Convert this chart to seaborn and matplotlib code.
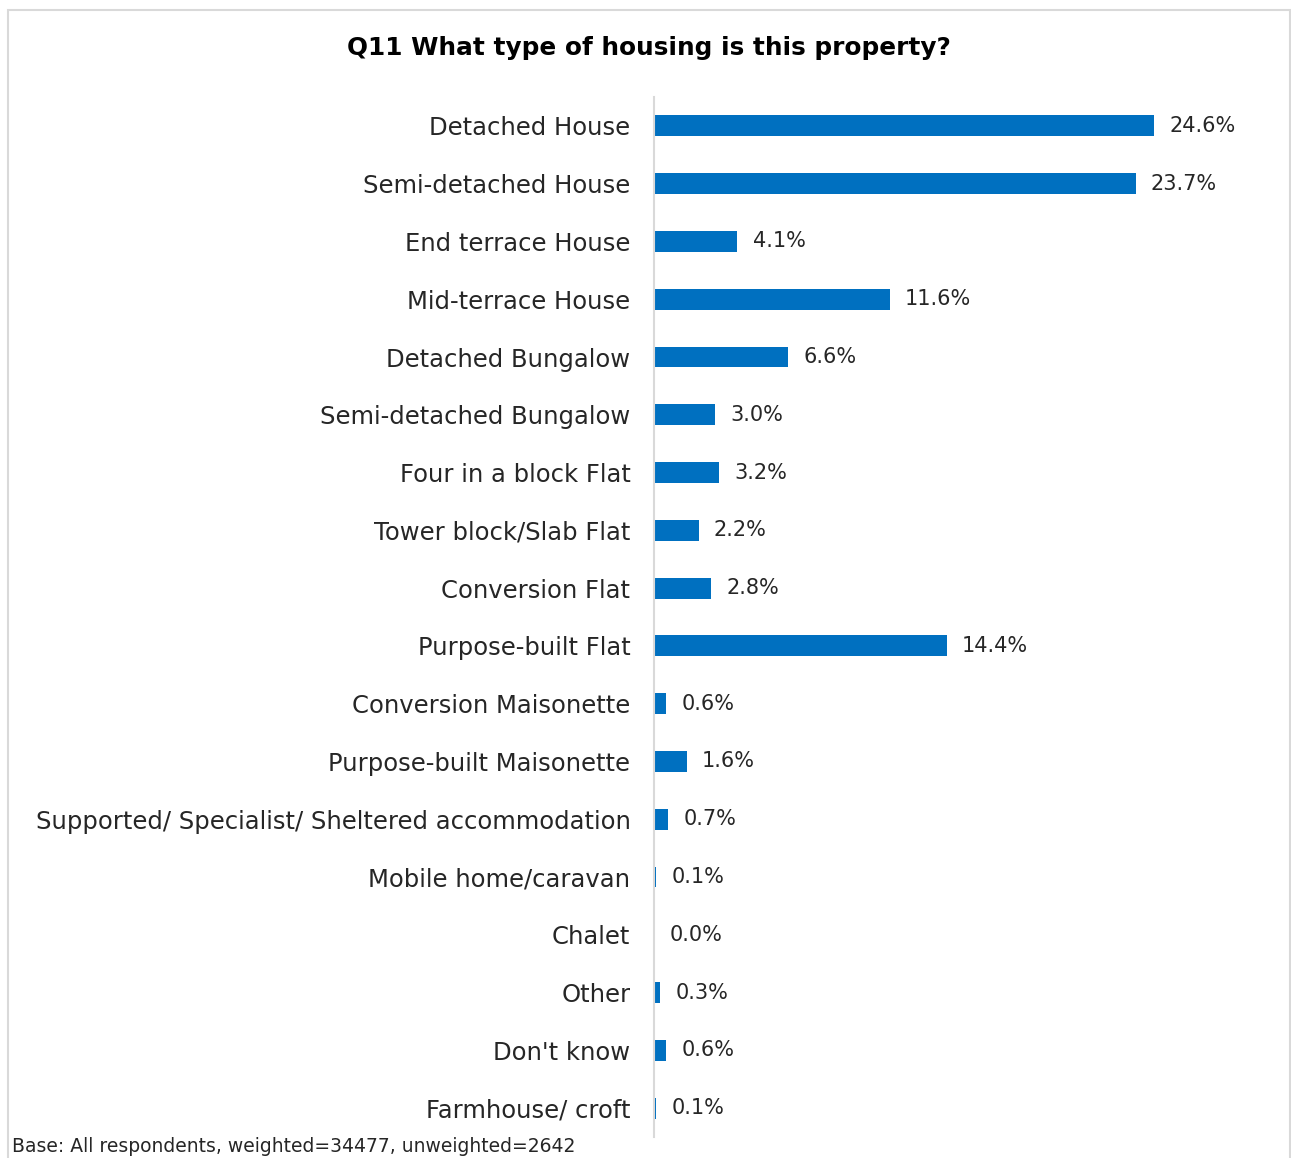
import matplotlib
matplotlib.use("Agg")
import matplotlib.pyplot as plt
import seaborn as sns
import pandas as pd
from matplotlib.patches import Rectangle

categories = [
    "Detached House", "Semi-detached House", "End terrace House", "Mid-terrace House",
    "Detached Bungalow", "Semi-detached Bungalow", "Four in a block Flat",
    "Tower block/Slab Flat", "Conversion Flat", "Purpose-built Flat",
    "Conversion Maisonette", "Purpose-built Maisonette",
    "Supported/ Specialist/ Sheltered accommodation", "Mobile home/caravan",
    "Chalet", "Other", "Don't know", "Farmhouse/ croft",
]
values = [24.6, 23.7, 4.1, 11.6, 6.6, 3.0, 3.2, 2.2, 2.8, 14.4, 0.6, 1.6, 0.7, 0.1, 0.0, 0.3, 0.6, 0.1]
title = "Q11 What type of housing is this property?"
footnote = "Base: All respondents, weighted=34477, unweighted=2642"

df = pd.DataFrame({"category": categories, "value": values})

sns.set_theme(style="white")
plt.rcParams["font.family"] = ["DejaVu Sans"]

W, H = 1291, 1158
fig = plt.figure(figsize=(W / 100, H / 100), dpi=100)
ax_left, ax_right = 654 / W, 1290 / W
ax_top, ax_bot = 1 - 97 / H, 1 - 1137 / H
ax = fig.add_axes([ax_left, ax_bot, ax_right - ax_left, ax_top - ax_bot])

sns.barplot(data=df, x="value", y="category", orient="h", color="#0070C0",
            saturation=1, width=0.36, linewidth=0, ax=ax)

px_per_unit = 500 / 24.6
ax.set_xlim(0, (1290 - 654) / px_per_unit)
ax.set_ylim(len(categories) - 0.5, -0.5)

for i, v in enumerate(values):
    ax.annotate(f"{v:.1f}%", xy=(v, i), xytext=(11, 0), textcoords="offset points",
                ha="left", va="center", fontsize=15, color="#262626")

ax.set_xlabel("")
ax.set_ylabel("")
ax.set_xticks([])
ax.tick_params(axis="y", length=0, pad=17, labelsize=17.5, labelcolor="#262626")
for s in ["top", "right", "bottom"]:
    ax.spines[s].set_visible(False)
ax.spines["left"].set_color("#d9d9d9")
ax.spines["left"].set_linewidth(1.5)

fig.text(649 / W, 1 - 48 / H, title, ha="center", va="center", fontsize=17.8,
         fontweight="bold", color="#000000")
fig.text(12 / W, 1 - 1146 / H, footnote, ha="left", va="center", fontsize=13.5,
         color="#262626")

fig.patches.append(Rectangle((8 / W, -0.01), (1290 - 8) / W, 1 - 10 / H + 0.01,
                             transform=fig.transFigure, fill=False,
                             edgecolor="#d9d9d9", linewidth=1.5))

fig.savefig("out.png", dpi=100)
